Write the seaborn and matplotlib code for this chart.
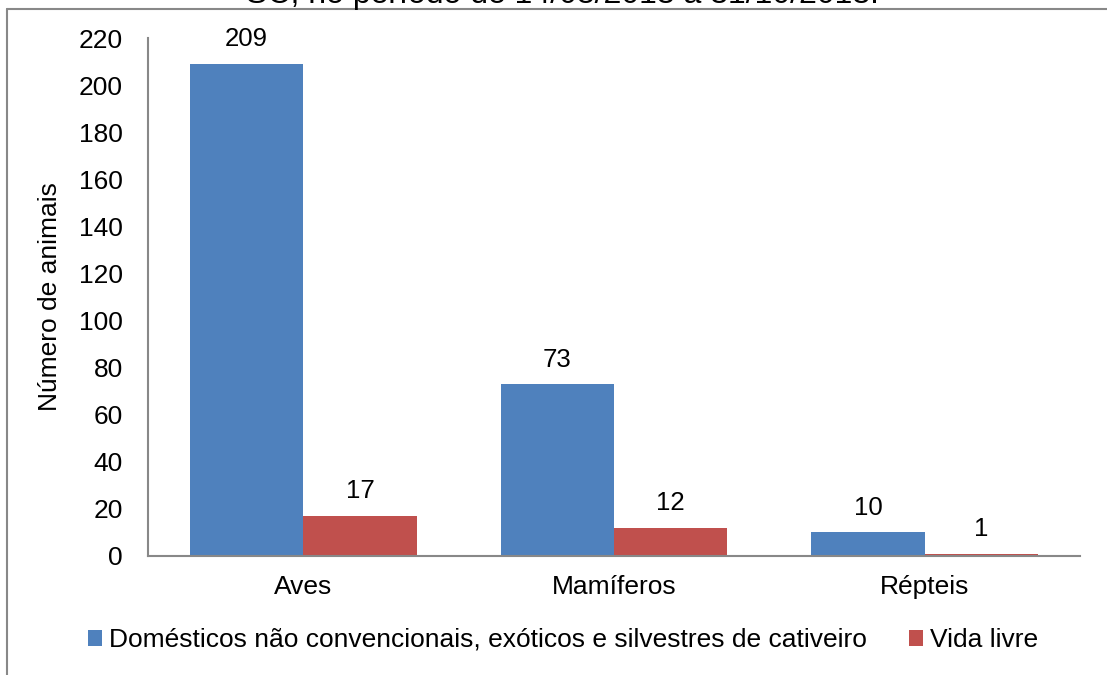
import pandas as pd
import matplotlib.pyplot as plt
import seaborn as sns
from matplotlib.lines import Line2D

# data
categorias = ["Aves", "Mamíferos", "Répteis"]
domesticos = [209, 73, 10]
vida_livre = [17, 12, 1]
grupos = ["Domésticos não convencionais, exóticos e silvestres de cativeiro", "Vida livre"]
cores = ["#4F81BD", "#C0504D"]
y_ticks = list(range(0, 221, 20))

df = pd.DataFrame({
    "categoria": categorias * 2,
    "grupo": [grupos[0]] * 3 + [grupos[1]] * 3,
    "n": domesticos + vida_livre,
})

sns.set_style("white")
plt.rcParams["font.family"] = ["Liberation Sans", "DejaVu Sans"]
plt.rcParams["text.color"] = "black"
plt.rcParams["axes.labelcolor"] = "black"
plt.rcParams["xtick.color"] = "black"
plt.rcParams["ytick.color"] = "black"

fig = plt.figure(figsize=(11.07, 6.75), dpi=100)
ax = fig.add_axes([0.1337, 0.1763, 0.842, 0.7674])

sns.barplot(data=df, x="categoria", y="n", hue="grupo", palette=cores,
            order=categorias, hue_order=grupos, width=0.73, saturation=1,
            linewidth=0, ax=ax)

for cont in ax.containers:
    ax.bar_label(cont, fmt="%d", padding=9, fontsize=18.5)

ax.set_ylim(0, 220)
ax.set_xlim(-0.5, 2.5)
ax.set_yticks(y_ticks)
ax.tick_params(axis="both", length=0, labelsize=19)
ax.tick_params(axis="x", pad=14)
ax.tick_params(axis="y", pad=18)
ax.set_xlabel("")
ax.set_ylabel("Número de animais", fontsize=19, labelpad=12)

for s in ["top", "right"]:
    ax.spines[s].set_visible(False)
for s in ["left", "bottom"]:
    ax.spines[s].set_color("#888888")
    ax.spines[s].set_linewidth(1.5)

handles, labels = ax.get_legend_handles_labels()
ax.legend(handles, labels, loc="center", bbox_to_anchor=(0.5 - 0.055, -0.162),
          ncol=2, frameon=False, fontsize=19, handlelength=0.55,
          handleheight=0.55, handletextpad=0.25, columnspacing=1.6)

# outer frame and cut-off title from the source document
fig.add_artist(Line2D([7 / 1107, 1], [1 - 9 / 675, 1 - 9 / 675],
                      transform=fig.transFigure, color="#888888", lw=1.5))
fig.add_artist(Line2D([7 / 1107, 7 / 1107], [0, 1 - 9 / 675],
                      transform=fig.transFigure, color="#888888", lw=1.5))
fig.text(562 / 1107, 1 - 3 / 675, "SC, no período de 14/08/2013 a 31/10/2013.",
         ha="center", va="baseline", fontsize=23)

plt.savefig("out.png", dpi=100)
